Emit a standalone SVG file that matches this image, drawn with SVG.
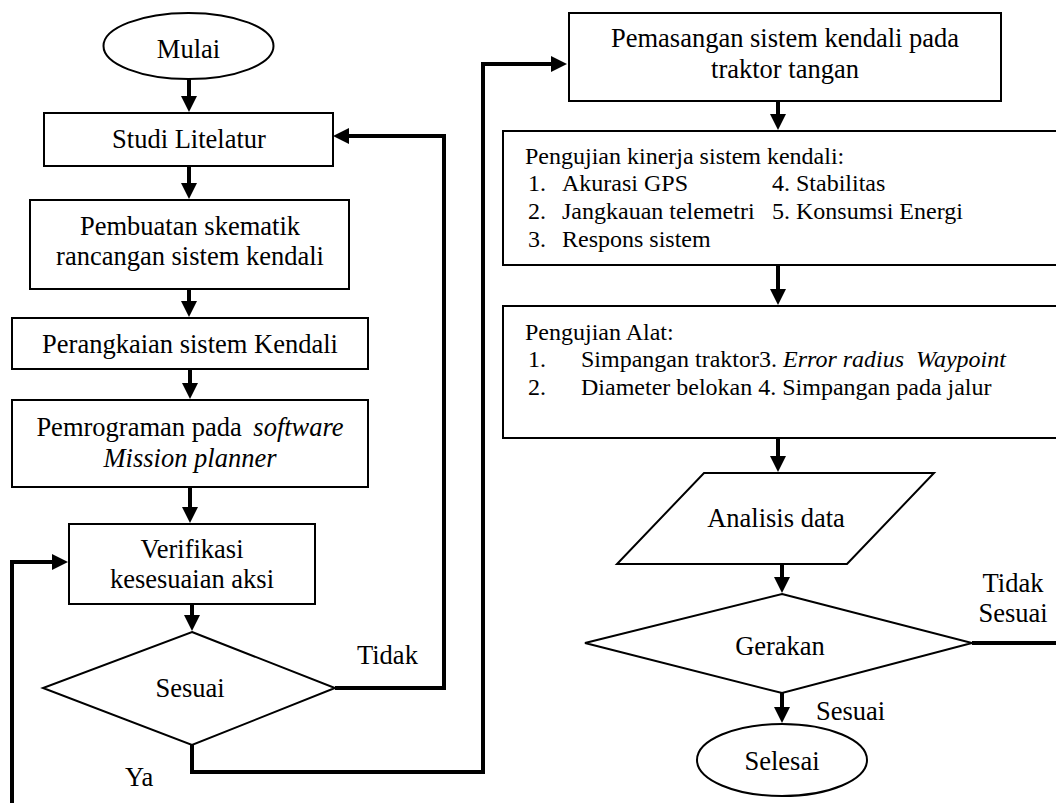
<svg xmlns="http://www.w3.org/2000/svg" width="1056" height="803" viewBox="0 0 1056 803">
<style>
.shape{fill:#fff;stroke:#000;stroke-width:2}
.t{font-family:"Liberation Serif","Times New Roman",serif;font-size:26.5px;fill:#000}
.c{text-anchor:middle}
.s{font-size:24px}
.conn path{fill:none;stroke:#000;stroke-width:4}
</style>
<defs>
<marker id="ah" markerUnits="userSpaceOnUse" markerWidth="16" markerHeight="16" refX="1" refY="8" orient="auto">
<path d="M0,0 L16,8 L0,16 z" fill="#000"/>
</marker>
</defs>
<rect width="1056" height="803" fill="#fff"/>

<g id="mulai"><ellipse class="shape" cx="188.5" cy="46" rx="85" ry="33"/><text class="t c" x="188.5" y="58">Mulai</text></g>
<g id="studi"><rect class="shape" x="44" y="113" width="289" height="53"/><text class="t c" x="189" y="148">Studi Litelatur</text></g>
<g id="pembuatan"><rect class="shape" x="30" y="200" width="319" height="89"/><text class="t c" x="190" y="235">Pembuatan skematik</text><text class="t c" x="190" y="265">rancangan sistem kendali</text></g>
<g id="perangkaian"><rect class="shape" x="12" y="318" width="356" height="51"/><text class="t c" x="190" y="353">Perangkaian sistem Kendali</text></g>
<g id="pemrograman"><rect class="shape" x="12" y="400" width="356" height="87"/><text class="t c" x="190" y="436">Pemrograman pada <tspan dx="5" font-style="italic">software</tspan></text><text class="t c" x="190" y="467" font-style="italic">Mission planner</text></g>
<g id="verifikasi"><rect class="shape" x="69" y="524" width="246" height="80"/><text class="t c" x="192" y="558">Verifikasi</text><text class="t c" x="192" y="588">kesesuaian aksi</text></g>
<g id="sesuai"><polygon class="shape" points="192,632 335,688 192,745 43,688"/><text class="t c" x="190" y="697">Sesuai</text></g>

<g id="pemasangan"><rect class="shape" x="569" y="13" width="432" height="88"/><text class="t c" x="785" y="47">Pemasangan sistem kendali pada</text><text class="t c" x="785" y="78">traktor tangan</text></g>
<g id="pengujian-kinerja"><rect class="shape" x="503" y="131" width="560" height="134"/>
<text class="t s" x="525" y="164">Pengujian kinerja sistem kendali:</text>
<text class="t s" x="528" y="191">1.</text><text class="t s" x="562" y="191">Akurasi GPS</text><text class="t s" x="772" y="191">4. Stabilitas</text>
<text class="t s" x="528" y="219">2.</text><text class="t s" x="562" y="219">Jangkauan telemetri</text><text class="t s" x="772" y="219">5. Konsumsi Energi</text>
<text class="t s" x="528" y="247">3.</text><text class="t s" x="562" y="247">Respons sistem</text>
</g>
<g id="pengujian-alat"><rect class="shape" x="503" y="306" width="560" height="132"/>
<text class="t s" x="525" y="340">Pengujian Alat:</text>
<text class="t s" x="528" y="367">1.</text><text class="t s" x="581" y="367">Simpangan traktor3. <tspan font-style="italic">Error radius</tspan><tspan dx="12" font-style="italic">Waypoint</tspan></text>
<text class="t s" x="528" y="395">2.</text><text class="t s" x="581" y="395">Diameter belokan 4. Simpangan pada jalur</text>
</g>
<g id="analisis"><polygon class="shape" points="704,473 934,473 847,564 617,564"/><text class="t c" x="776" y="527">Analisis data</text></g>
<g id="gerakan"><polygon class="shape" points="782,594 972,643 782,693 585,643"/><text class="t c" x="780" y="655">Gerakan</text></g>
<g id="selesai"><ellipse class="shape" cx="782" cy="760" rx="85" ry="36"/><text class="t c" x="782" y="770">Selesai</text></g>

<g id="connectors" class="conn">
<path d="M189,79 V97" marker-end="url(#ah)"/>
<path d="M189,166 V184" marker-end="url(#ah)"/>
<path d="M189,289 V302" marker-end="url(#ah)"/>
<path d="M190,369 V384" marker-end="url(#ah)"/>
<path d="M190,487 V508" marker-end="url(#ah)"/>
<path d="M192,604 V616" marker-end="url(#ah)"/>
<path d="M335,688 H444 V136 H348" marker-end="url(#ah)"/>
<path d="M192,745 V772 H483 V64 H552" marker-end="url(#ah)"/>
<path d="M12,805 V562 H53" marker-end="url(#ah)"/>
<path d="M778,101 V115" marker-end="url(#ah)"/>
<path d="M778,265 V290" marker-end="url(#ah)"/>
<path d="M778,438 V457" marker-end="url(#ah)"/>
<path d="M782,564 V578" marker-end="url(#ah)"/>
<path d="M782,693 V708" marker-end="url(#ah)"/>
<path d="M972,643 H1060"/>
</g>
<g id="labels">
<text class="t" x="357" y="664">Tidak</text>
<text class="t" x="125" y="786">Ya</text>
<text class="t c" x="1013" y="592">Tidak</text>
<text class="t c" x="1013" y="622">Sesuai</text>
<text class="t" x="816" y="720">Sesuai</text>
</g>
</svg>
